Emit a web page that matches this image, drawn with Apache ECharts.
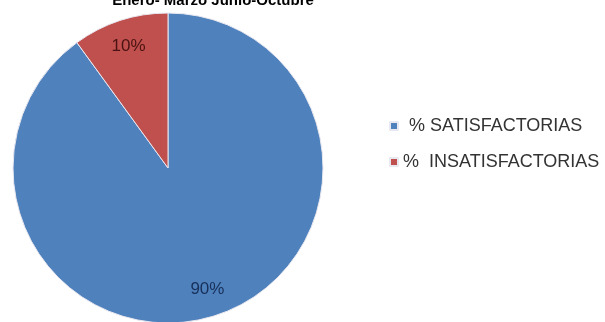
<!DOCTYPE html>
<html>
<head>
<meta charset="utf-8">
<script src="https://cdn.jsdelivr.net/npm/echarts@6/dist/echarts.min.js"></script>
<style>html,body{margin:0;padding:0;background:#fff}#c{width:605px;height:322px}</style>
</head>
<body>
<div id="c"></div>
<script>
var titleText = "Enero- Marzo Junio-Octubre";
var categories = ["% SATISFACTORIAS", "%  INSATISFACTORIAS"];
var values = [90, 10];
var colors = ["#4F81BD", "#C0504D"];
var labelColors = ["#17305a", "#4a1212"];

var chart = echarts.init(document.getElementById('c'), null, {renderer: 'canvas'});
var pieData = categories.map(function (n, i) {
  return {name: n, value: values[i], itemStyle: {color: colors[i]}};
});
var labelData = categories.map(function (n, i) {
  return {name: n, value: values[i], label: {color: labelColors[i]}};
});
chart.setOption({
  animation: false,
  title: {
    text: titleText,
    left: 208, top: -12, textAlign: 'center',
    textStyle: {fontFamily: 'Liberation Sans', fontWeight: 'bold', fontSize: 15, color: '#000'}
  },
  legend: {
    orient: 'vertical',
    left: 384, top: 112,
    itemWidth: 8, itemHeight: 8, itemGap: 18,
    icon: 'rect',
    data: [
      {name: categories[0], textStyle: {padding: [0, 0, 0, 6]}},
      {name: categories[1]}
    ],
    textStyle: {fontFamily: 'Liberation Sans', fontSize: 18, color: '#333'}
  },
  series: [
    {
      type: 'pie',
      center: [168, 168],
      radius: [0, 155],
      startAngle: 90,
      clockwise: true,
      silent: true,
      label: {show: false},
      labelLine: {show: false},
      itemStyle: {borderColor: '#e8e8f0', borderWidth: 1},
      data: pieData
    },
    {
      type: 'pie',
      center: [168, 168],
      radius: [94, 155],
      startAngle: 90,
      clockwise: true,
      silent: true,
      legendHoverLink: false,
      itemStyle: {color: 'rgba(0,0,0,0)'},
      label: {
        show: true, position: 'inside',
        formatter: '{c}%',
        fontFamily: 'Liberation Sans', fontSize: 17
      },
      labelLine: {show: false},
      data: labelData
    }
  ]
});
</script>
</body>
</html>
